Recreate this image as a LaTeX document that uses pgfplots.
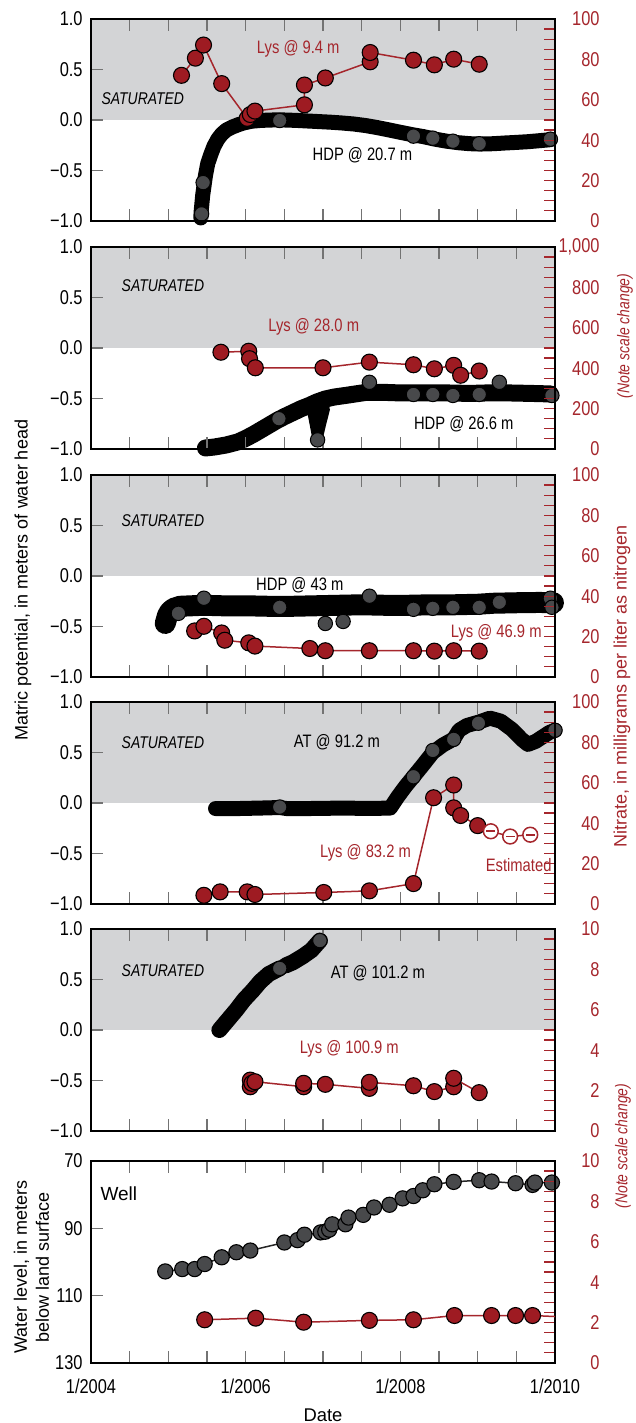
\documentclass[border=0pt]{standalone}
\usepackage{fontspec}
\setmainfont{Liberation Sans}
\newfontfamily\cond[FakeStretch=0.82]{Liberation Sans}
\usepackage{pgfplots}
\pgfplotsset{compat=1.18}

\definecolor{lysred}{RGB}{158,27,34}
\definecolor{lysline}{RGB}{165,38,44}
\definecolor{satgray}{RGB}{211,212,214}
\definecolor{dotgray}{RGB}{72,73,75}

\newcommand{\tickfont}{\cond\fontsize{10}{11}\selectfont}
\newcommand{\lab}{\cond\fontsize{9}{10}\selectfont}
\newcommand{\sat}{\cond\itshape\fontsize{8.5}{10}\selectfont}
\newcommand{\titlefont}{\fontsize{9}{11}\selectfont}

\pgfplotsset{
  base/.style={scale only axis, width=232pt, height=101pt,
    xmin=2004, xmax=2010, clip=false,
    major tick length=0pt, tick align=inside,
    axis line style={line width=0.6pt},
    ticklabel style={font=\tickfont}},
  mp/.style={base, axis on top,
    xtick={2004,2006,2008,2010}, xticklabels={},
    minor xtick={2004.5,2005,...,2009.5},
    xtick pos=both, ytick pos=left, minor tick length=6pt,
    tick style={black!55, line width=0.6pt},
    ymin=-1, ymax=1, ytick={-1,-0.5,0,0.5,1},
    yticklabels={−1.0,−0.5,0.0,0.5,1.0}, minor ytick={-0.5,0,0.5},
    yticklabel style={inner sep=0pt, xshift=-4pt}},
  nit/.style={base, xtick=\empty, ytick pos=right, yticklabel pos=right,
    minor tick length=5.5pt, tick style={lysline, line width=0.6pt},
    yticklabel style={text=lysline, anchor=east, inner sep=0pt, xshift=22.5pt}},
  nit100/.style={nit, ymin=0, ymax=100, ytick={0,20,...,100},
    yticklabels={0,20,40,60,80,100}, minor ytick={5,10,...,95}},
  nit10/.style={nit, ymin=0, ymax=10, ytick={0,2,...,10},
    yticklabels={0,2,4,6,8,10}, minor ytick={0.5,1,...,9.5}},
  hdp/.style={black, line width=7.5pt, line cap=round, line join=round, no marks},
  gdot/.style={only marks, mark=*, mark size=3.6pt,
    mark options={fill=dotgray, draw=black, line width=0.5pt}},
  lys/.style={lysline, line width=0.75pt, mark=*, mark size=4pt,
    mark options={fill=lysred, draw=black, line width=0.55pt}},
}

\begin{document}
\begin{tikzpicture}
\path[use as bounding box] (0,0) rectangle (318pt,711.5pt);

% ---------- Lysimeter 9.4 m / HDP 20.7 m ----------
\begin{axis}[mp, at={(45.5pt,601pt)}, anchor=south west]
  \fill[satgray] (axis cs:2004,0) rectangle (axis cs:2010,1);
  \addplot[hdp] coordinates {
    (2005.42,-0.97) (2005.425,-0.90) (2005.435,-0.82) (2005.445,-0.74)
    (2005.46,-0.66) (2005.48,-0.55) (2005.51,-0.43) (2005.55,-0.34)
    (2005.59,-0.26) (2005.64,-0.19) (2005.69,-0.14) (2005.75,-0.10)
    (2005.82,-0.072) (2005.90,-0.048) (2005.98,-0.028) (2006.08,-0.012)
    (2006.20,-0.004) (2006.35,0.0) (2006.50,0.0) (2006.65,-0.004)
    (2006.80,-0.010) (2006.95,-0.016) (2007.10,-0.022) (2007.25,-0.030)
    (2007.40,-0.040) (2007.55,-0.055) (2007.70,-0.075) (2007.85,-0.098)
    (2008.00,-0.122) (2008.15,-0.145) (2008.30,-0.165) (2008.45,-0.19)
    (2008.60,-0.21) (2008.75,-0.225) (2008.90,-0.235) (2009.05,-0.238)
    (2009.20,-0.235) (2009.35,-0.228) (2009.50,-0.222) (2009.65,-0.215)
    (2009.80,-0.205) (2009.94,-0.195)};
  \addplot[gdot] coordinates {(2005.43,-0.93) (2005.45,-0.62) (2006.44,-0.005)
    (2008.17,-0.16) (2008.42,-0.18) (2008.68,-0.21) (2009.02,-0.235) (2009.94,-0.19)};
  \node[font=\sat] at (axis cs:2004.67,0.21) {SATURATED};
  \node[font=\lab, text=lysline] at (axis cs:2006.68,0.70) {Lys @ 9.4 m};
  \node[font=\lab] at (axis cs:2007.51,-0.35) {HDP @ 20.7 m};
\end{axis}
\begin{axis}[nit100, at={(45.5pt,601pt)}, anchor=south west]
  \addplot[lys] coordinates {
    (2005.17,72.1) (2005.35,80.6) (2005.455,87.1) (2005.69,68.0)
    (2006.02,50.8) (2006.06,52.7) (2006.12,54.4) (2006.76,57.5)
    (2006.76,67.3) (2007.03,70.8) (2007.61,78.8) (2007.61,83.4)
    (2008.17,79.6) (2008.44,77.3) (2008.69,80.1) (2009.02,77.6)};
\end{axis}

% ---------- Lysimeter 28.0 m / HDP 26.6 m ----------
\begin{axis}[mp, at={(45.5pt,487pt)}, anchor=south west]
  \fill[satgray] (axis cs:2004,0) rectangle (axis cs:2010,1);
  \addplot[hdp, line width=8.5pt] coordinates {
    (2005.48,-0.99) (2005.6,-0.98) (2005.75,-0.96) (2005.9,-0.93)
    (2006.0,-0.895) (2006.1,-0.855) (2006.2,-0.81) (2006.3,-0.765)
    (2006.4,-0.72) (2006.5,-0.68) (2006.61,-0.64) (2006.72,-0.60)
    (2006.82,-0.57) (2006.92,-0.535) (2007.03,-0.505) (2007.15,-0.485)
    (2007.29,-0.47) (2007.42,-0.455) (2007.55,-0.44) (2007.7,-0.44)
    (2007.81,-0.44) (2008.0,-0.445) (2008.3,-0.445) (2008.6,-0.445)
    (2008.9,-0.45) (2009.12,-0.445) (2009.4,-0.445) (2009.7,-0.45)
    (2009.94,-0.455)};
  \addplot[hdp, line width=5.5pt] coordinates {(2006.86,-0.6) (2006.9,-0.76)
    (2006.93,-0.88) (2006.97,-0.75) (2007.02,-0.6)};
  \addplot[hdp, line width=5.5pt] coordinates {(2007.57,-0.43) (2007.6,-0.35) (2007.63,-0.43)};
  \addplot[gdot] coordinates {(2006.43,-0.70) (2006.93,-0.91) (2007.6,-0.34)
    (2008.17,-0.46) (2008.42,-0.46) (2008.68,-0.47) (2009.02,-0.46)
    (2009.28,-0.34) (2009.96,-0.47)};
  \node[font=\sat] at (axis cs:2004.93,0.62) {SATURATED};
  \node[font=\lab, text=lysline] at (axis cs:2006.88,0.21) {Lys @ 28.0 m};
  \node[font=\lab] at (axis cs:2008.82,-0.757) {HDP @ 26.6 m};
\end{axis}
\begin{axis}[nit, at={(45.5pt,487pt)}, anchor=south west,
  ymin=0, ymax=1000, ytick={0,200,...,1000},
  yticklabels={0,200,400,600,800,{1,000}}, minor ytick={50,100,...,950}]
  \addplot[lys] coordinates {
    (2005.68,479) (2006.04,484) (2006.05,447) (2006.125,402) (2007.0,402)
    (2007.60,430) (2008.17,417) (2008.44,397) (2008.69,414) (2008.78,365)
    (2009.02,386)};
\end{axis}

% ---------- Lysimeter 46.9 m / HDP 43 m ----------
\begin{axis}[mp, at={(45.5pt,373pt)}, anchor=south west]
  \fill[satgray] (axis cs:2004,0) rectangle (axis cs:2010,1);
  \addplot[hdp, line width=10.5pt] coordinates {
    (2004.96,-0.47) (2004.975,-0.43) (2004.99,-0.39) (2005.02,-0.35)
    (2005.07,-0.32) (2005.15,-0.30) (2005.30,-0.295) (2005.46,-0.29)
    (2005.70,-0.295) (2006.00,-0.295) (2006.30,-0.30) (2006.60,-0.30)
    (2006.90,-0.295) (2007.20,-0.29) (2007.50,-0.285) (2007.80,-0.29)
    (2008.10,-0.29) (2008.40,-0.285) (2008.70,-0.285) (2009.00,-0.28)
    (2009.20,-0.27) (2009.50,-0.265) (2009.80,-0.262) (2009.98,-0.265)};
  \addplot[gdot] coordinates {(2005.13,-0.37) (2005.46,-0.22) (2006.44,-0.31)
    (2007.03,-0.47) (2007.26,-0.45) (2007.6,-0.2) (2008.17,-0.33)
    (2008.42,-0.32) (2008.68,-0.31) (2009.02,-0.31) (2009.28,-0.26)
    (2009.94,-0.22) (2009.96,-0.31)};
  \node[font=\sat] at (axis cs:2004.93,0.547) {SATURATED};
  \node[font=\lab] at (axis cs:2006.70,-0.087) {HDP @ 43 m};
  \node[font=\lab, text=lysline] at (axis cs:2009.24,-0.56) {Lys @ 46.9 m};
\end{axis}
\begin{axis}[nit100, at={(45.5pt,373pt)}, anchor=south west]
  \addplot[lys] coordinates {
    (2005.34,22.8) (2005.46,25.1) (2005.69,21.8) (2005.73,18.2)
    (2006.04,16.9) (2006.12,15.3) (2006.83,14.1) (2007.03,13.0)
    (2007.60,13.0) (2008.17,13.0) (2008.44,12.8) (2008.69,13.0)
    (2009.02,12.8)};
\end{axis}

% ---------- Lysimeter 83.2 m / AT 91.2 m ----------
\begin{axis}[mp, at={(45.5pt,259.5pt)}, anchor=south west]
  \fill[satgray] (axis cs:2004,0) rectangle (axis cs:2010,1);
  \addplot[hdp, line width=7.5pt] coordinates {
    (2005.61,-0.055) (2005.9,-0.055) (2006.2,-0.05) (2006.44,-0.045)
    (2006.53,-0.055) (2006.8,-0.055) (2007.1,-0.052) (2007.4,-0.052)
    (2007.7,-0.053) (2007.87,-0.05) (2007.97,0.065) (2008.07,0.168)
    (2008.17,0.261) (2008.29,0.374) (2008.42,0.50) (2008.55,0.574)
    (2008.69,0.634) (2008.76,0.72) (2008.86,0.767) (2009.01,0.80)
    (2009.16,0.84) (2009.3,0.81) (2009.44,0.73) (2009.57,0.63)
    (2009.65,0.58) (2009.75,0.61) (2009.85,0.66) (2009.93,0.70)
    (2010.0,0.72)};
  \addplot[gdot] coordinates {(2006.44,-0.04) (2008.17,0.26) (2008.42,0.52)
    (2008.69,0.63) (2009.01,0.79) (2010.0,0.72)};
  \node[font=\sat] at (axis cs:2004.93,0.60) {SATURATED};
  \node[font=\lab] at (axis cs:2007.18,0.60) {AT @ 91.2 m};
  \node[font=\lab, text=lysline] at (axis cs:2007.55,-0.49) {Lys @ 83.2 m};
  \node[font=\lab, text=lysline] at (axis cs:2009.53,-0.61) {Estimated};
\end{axis}
\begin{axis}[nit100, at={(45.5pt,259.5pt)}, anchor=south west]
  \addplot[lys] coordinates {
    (2005.46,4.3) (2005.67,6.0) (2006.02,6.0) (2006.12,4.7) (2007.01,5.7)
    (2007.60,6.5) (2008.17,10.1) (2008.43,52.6) (2008.69,58.9)
    (2008.69,47.6) (2008.78,43.8) (2009.0,38.8)};
  % estimated concentrations
  \addplot[lysline, line width=0.75pt, mark=*, mark size=3.7pt,
    mark options={fill=white, draw=lysline, line width=0.75pt}]
    coordinates {(2009.17,36.0) (2009.42,33.4) (2009.68,34.3)};
  \addplot[only marks, mark=-, mark size=2.2pt,
    mark options={draw=lysline, line width=0.8pt}]
    coordinates {(2009.17,36.0) (2009.42,33.4) (2009.68,34.3)};
\end{axis}

% ---------- Lysimeter 100.9 m / AT 101.2 m ----------
\begin{axis}[mp, at={(45.5pt,146pt)}, anchor=south west]
  \fill[satgray] (axis cs:2004,0) rectangle (axis cs:2010,1);
  \addplot[hdp, line width=8pt] coordinates {
    (2005.66,0.0) (2005.77,0.10) (2005.88,0.20) (2005.98,0.30)
    (2006.09,0.39) (2006.19,0.48) (2006.30,0.555) (2006.44,0.61)};
  \addplot[hdp, line width=8pt] coordinates {
    (2006.52,0.64) (2006.61,0.67) (2006.74,0.73) (2006.85,0.79) (2006.96,0.885)};
  \addplot[gdot] coordinates {(2006.44,0.61) (2006.96,0.885)};
  \node[font=\sat] at (axis cs:2004.93,0.587) {SATURATED};
  \node[font=\lab] at (axis cs:2007.71,0.567) {AT @ 101.2 m};
  \node[font=\lab, text=lysline] at (axis cs:2007.34,-0.19) {Lys @ 100.9 m};
\end{axis}
\begin{axis}[nit10, at={(45.5pt,146pt)}, anchor=south west]
  \addplot[lys] coordinates {
    (2006.06,2.19) (2006.06,2.52) (2006.08,2.36) (2006.12,2.44)
    (2006.75,2.19) (2006.75,2.36) (2007.03,2.31) (2007.60,2.11)
    (2007.60,2.41) (2008.17,2.24) (2008.44,1.95) (2008.69,2.19)
    (2008.69,2.61) (2009.02,1.90)};
\end{axis}

% ---------- Well water level ----------
\begin{axis}[base, axis on top, at={(45.5pt,30pt)}, anchor=south west,
  xtick={2004,2006,2008,2010}, xticklabels={1/2004,1/2006,1/2008,1/2010},
  minor xtick={2004.5,2005,...,2009.5},
  xtick pos=both, ytick pos=left, minor tick length=6pt,
  tick style={black!55, line width=0.6pt},
  xticklabel style={anchor=base, inner sep=0pt, yshift=-15pt},
  ymin=70, ymax=130, y dir=reverse, ytick={70,90,110,130},
  yticklabels={70,90,110,130}, minor ytick={90,110},
  yticklabel style={inner sep=0pt, xshift=-4pt}]
  \addplot[black!85, line width=0.75pt, mark=*, mark size=3.8pt,
    mark options={fill=dotgray, draw=black, line width=0.55pt}] coordinates {
    (2004.96,102.8) (2005.18,102.1) (2005.34,102.1) (2005.47,100.6)
    (2005.69,98.6) (2005.88,97.1) (2006.06,96.6) (2006.50,94.2)
    (2006.67,93.5) (2006.76,91.9) (2006.97,91.2) (2007.03,91.0)
    (2007.08,90.4) (2007.12,88.8) (2007.29,88.8) (2007.33,86.8)
    (2007.52,86.0) (2007.66,83.8) (2007.86,83.0) (2008.03,81.1)
    (2008.17,80.4) (2008.29,78.7) (2008.44,76.9) (2008.69,76.2)
    (2009.02,75.7) (2009.18,76.1) (2009.49,76.6) (2009.71,77.1)
    (2009.74,76.4) (2009.96,76.4)};
  \node[font=\fontsize{9.5}{11}\selectfont] at (axis cs:2004.36,79.6) {Well};
\end{axis}
\begin{axis}[nit10, at={(45.5pt,30pt)}, anchor=south west]
  \addplot[lysline, line width=0.75pt, no marks] coordinates {
    (2005.47,2.14) (2006.13,2.22) (2006.75,2.02) (2007.60,2.11)
    (2008.17,2.14) (2008.70,2.35) (2009.18,2.35) (2009.49,2.35)
    (2009.71,2.35) (2010.0,2.3)};
  \addplot[lys, only marks] coordinates {
    (2005.47,2.14) (2006.13,2.22) (2006.75,2.02) (2007.60,2.11)
    (2008.17,2.14) (2008.70,2.35) (2009.18,2.35) (2009.49,2.35)
    (2009.71,2.35)};
\end{axis}

% ---------- axis titles ----------
\node[rotate=90, font=\titlefont] at (11.5pt,421.5pt)
  {Matric potential, in meters of water head};
\node[rotate=90, font=\titlefont, text=lysline] at (311pt,368.5pt)
  {Nitrate, in milligrams per liter as nitrogen};
\node[rotate=90, font=\sat, text=lysline] at (312.5pt,543.5pt) {(Note scale change)};
\node[rotate=90, font=\sat, text=lysline] at (311.5pt,138.5pt) {(Note scale change)};
\node[rotate=90, align=center, font=\fontsize{9}{11}\selectfont] at (15.75pt,78pt)
  {Water level, in meters\\below land surface};
\node[anchor=base, font=\fontsize{9.2}{11}\selectfont] at (161.5pt,0.8pt) {Date};
\end{tikzpicture}
\end{document}
